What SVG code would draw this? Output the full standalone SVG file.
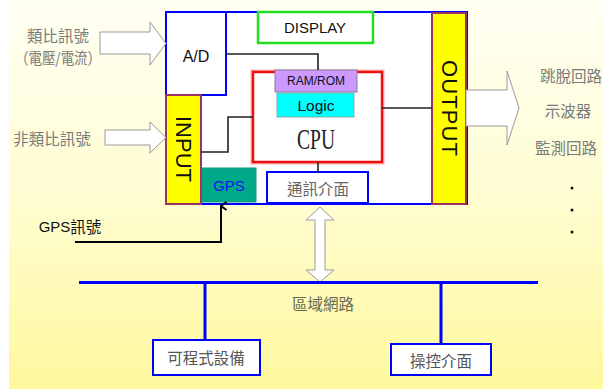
<svg xmlns="http://www.w3.org/2000/svg" width="603" height="389" viewBox="0 0 603 389">
<defs>
<linearGradient id="bg" x1="0" y1="0" x2="0" y2="1">
<stop offset="0" stop-color="#FFFFF3"/>
<stop offset="0.5" stop-color="#FFFDD2"/>
<stop offset="1" stop-color="#FFF89E"/>
</linearGradient>
<marker id="ah" markerWidth="10" markerHeight="10" refX="5" refY="1.5" orient="auto-start-reverse" markerUnits="userSpaceOnUse" viewBox="0 0 10 10">
<path d="M1,7 L5,1.5 L9,7" fill="none" stroke="#000" stroke-width="2"/>
</marker>
<style>
.cjk{font-family:"Noto Sans CJK TC","Noto Sans CJK SC",sans-serif;font-size:15.5px;dominant-baseline:central;text-anchor:middle}
.lat{font-family:"Liberation Sans",Arial,sans-serif;dominant-baseline:central;text-anchor:middle}
.gray{fill:#7a7a7a}
.blk{fill:#111}
.barrow{fill:#fff;stroke:#9a9a9a;stroke-width:1}
.wire{fill:none;stroke:#222;stroke-width:1.6}
.net{fill:none;stroke:#0000FF;stroke-width:3}
.yel{fill:#FFFF00;stroke:#993366;stroke-width:2}
.bbox{fill:#fff;stroke:#0000FF;stroke-width:2}
</style>
</defs>
<rect x="0" y="0" width="603" height="389" fill="#fff"/>
<rect x="9" y="0" width="594" height="389" fill="url(#bg)"/>

<g id="controller">
<rect x="166" y="12" width="301" height="192" fill="#fff" stroke="#0000FF" stroke-width="2"/>
</g>
<g id="ad">
<rect x="166" y="12" width="60" height="83" class="bbox"/>
<text x="196" y="56" class="lat blk" font-size="16">A/D</text>
</g>
<g id="display">
<rect x="258" y="12" width="115" height="31" fill="#fff" stroke="#22DD22" stroke-width="2.5"/>
<text x="315" y="27" class="lat blk" font-size="15">DISPLAY</text>
</g>
<g id="input">
<rect x="166" y="95" width="35" height="109" class="yel"/>
<text transform="translate(183,149) rotate(90)" class="lat blk" font-size="22">INPUT</text>
</g>
<g id="gps">
<rect x="202" y="168" width="54" height="34" fill="#00AA88" stroke="#119977" stroke-width="1"/>
<text x="229" y="185" class="lat" font-size="15" fill="#1111EE">GPS</text>
</g>
<g id="cpu">
<rect x="253" y="72" width="129" height="90" fill="#fff" stroke="#FFB0B0" stroke-width="5"/>
<rect x="253" y="72" width="129" height="90" fill="#fff" stroke="#EE1111" stroke-width="2.5"/>
<text x="316" y="138" font-family="'Liberation Serif','Times New Roman',serif" font-size="30" text-anchor="middle" dominant-baseline="central" textLength="38" lengthAdjust="spacingAndGlyphs" fill="#222">CPU</text>
</g>
<g id="ramrom">
<rect x="275" y="70" width="82" height="22" fill="#CC99FF" stroke="#8a7a9a" stroke-width="1"/>
<text x="316" y="81" class="lat blk" font-size="12">RAM/ROM</text>
</g>
<g id="logic">
<rect x="277" y="93" width="77" height="24" fill="#00FFFF" stroke="#8aa" stroke-width="1"/>
<text x="316" y="105" class="lat blk" font-size="15.5">Logic</text>
</g>
<g id="comm">
<rect x="267" y="172" width="101" height="31" class="bbox"/>
<text x="318" y="188" class="cjk" fill="#666">通訊介面</text>
</g>
<g id="output">
<rect x="432" y="13" width="34" height="191" class="yel"/>
<text transform="translate(449,108) rotate(90)" class="lat blk" font-size="22" textLength="96" lengthAdjust="spacing">OUTPUT</text>
</g>

<g id="connectors">
<path class="wire" d="M226,54 H318 V70"/>
<path class="wire" d="M201,152 H228 V117 H253"/>
<path class="wire" d="M382,108 H432"/>
<path class="wire" d="M318,162 V172"/>
<path d="M75,242 H221 V206" fill="none" stroke="#000" stroke-width="2" marker-end="url(#ah)"/>
<path class="barrow" d="M100,32 H150 V22 L166,43.5 L150,65 V54 H100 Z"/>
<path class="barrow" d="M105,130 H150 V122 L166,137.5 L150,153 V145 H105 Z"/>
<path class="barrow" d="M466,90 H507 V71 L519,108 L507,145 V126 H466 Z"/>
<path class="barrow" d="M315,220 H306 L320,207 L334,220 H325 V270 H334 L320,282 L306,270 H315 Z"/>
<path class="net" d="M79,282.5 H538"/>
<path class="net" d="M205,282.5 V340" stroke-width="2.5"/>
<path class="net" d="M441,282.5 V344" stroke-width="2.5"/>
</g>

<g id="analog-label">
<text x="58" y="35" class="cjk gray">類比訊號</text>
<text x="58" y="57" class="cjk gray" textLength="86" lengthAdjust="spacingAndGlyphs">（電壓/電流）</text>
</g>
<g id="nonanalog-label">
<text x="52" y="138" class="cjk gray">非類比訊號</text>
</g>
<g id="gps-label">
<text x="70" y="226" class="cjk blk"><tspan font-family="'Liberation Sans',Arial,sans-serif" font-size="15">GPS</tspan>訊號</text>
</g>
<g id="outputs-label">
<text x="571" y="75" class="cjk gray">跳脫回路</text>
<text x="568" y="110" class="cjk gray">示波器</text>
<text x="566" y="147" class="cjk gray">監測回路</text>
<circle cx="572" cy="188" r="1.5" fill="#111"/>
<circle cx="572" cy="210" r="1.5" fill="#111"/>
<circle cx="572" cy="232" r="1.5" fill="#111"/>
</g>
<g id="lan">
<text x="323" y="303" class="cjk" fill="#6a6a50">區域網路</text>
</g>
<g id="plc">
<rect x="153" y="340" width="107" height="35" class="bbox"/>
<text x="206" y="357" class="cjk" fill="#555">可程式設備</text>
</g>
<g id="hmi">
<rect x="391" y="344" width="100" height="31" class="bbox"/>
<text x="441" y="360" class="cjk" fill="#555">操控介面</text>
</g>
</svg>
